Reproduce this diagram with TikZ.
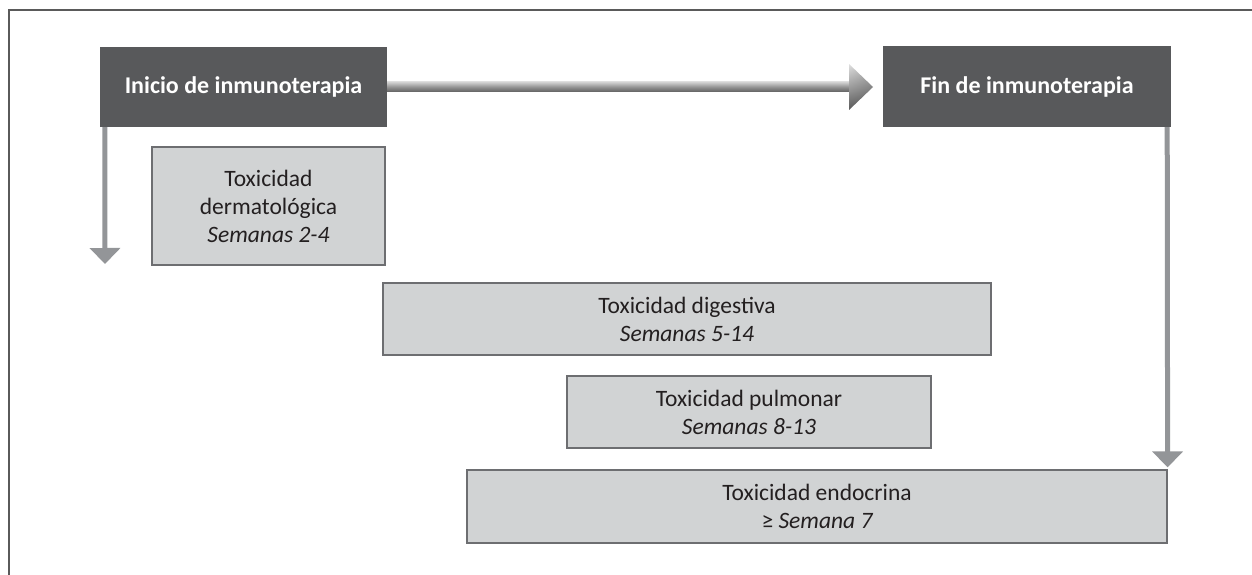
\documentclass[tikz,border=0pt]{standalone}
\usepackage{fontspec}
\setmainfont{Carlito}
\usetikzlibrary{arrows.meta,shadings}
\definecolor{darkbox}{HTML}{58595B}
\definecolor{lightbox}{HTML}{D1D3D4}
\definecolor{boxline}{HTML}{6D6E71}
\definecolor{arrowgray}{HTML}{939598}
\definecolor{framegray}{HTML}{5A5A5A}
\definecolor{textdark}{HTML}{231F20}
\tikzset{
  darknode/.style={fill=darkbox, draw=none, text=white, font=\fontsize{24}{28}\selectfont\bfseries, inner sep=0pt, align=center},
  lightnode/.style={fill=lightbox, draw=boxline, line width=1.2pt, text=textdark, font=\fontsize{23.5}{28}\selectfont, inner sep=0pt, align=center},
  downarrow/.style={draw=arrowgray, line width=5pt, -{Triangle[width=30pt,length=16pt]}},
  frameline/.style={draw=framegray, line width=1.5pt}
}
\begin{document}
\begin{tikzpicture}[x=1pt,y=-1pt]
\useasboundingbox (0,0) rectangle (1252,575);
% outer frame (top and left)
\coordinate (ftr) at (1252,10);
\coordinate (ftl) at (9,10);
\coordinate (fbl) at (9,575);
\draw[frameline] (ftr) -- (ftl) -- (fbl);
% dark boxes
\node[darknode, minimum width=287pt, minimum height=80pt] (inicio) at (243.5,87) {Inicio de inmunoterapia};
\node[darknode, minimum width=288pt, minimum height=81pt] (fin) at (1027,86.5) {Fin de inmunoterapia};
% light boxes
\node[lightnode, minimum width=233pt, minimum height=118pt] (derm) at (268.5,206) {Toxicidad\\dermatológica\\\itshape Semanas 2-4};
\node[lightnode, minimum width=608pt, minimum height=72pt] (dig) at (687,319) {Toxicidad digestiva\\\itshape Semanas 5-14};
\node[lightnode, minimum width=364pt, minimum height=72pt] (pulm) at (749,412) {Toxicidad pulmonar\\\itshape Semanas 8-13};
\node[lightnode, minimum width=700pt, minimum height=73pt] (endo) at (817,506.5) {Toxicidad endocrina\\{\upshape ≥} \itshape Semana 7};
% left down arrow
\coordinate (ltip) at (105,264);
\draw[downarrow] ([xshift=5pt]inicio.south west) -- (ltip);
% right down arrow
\draw[downarrow] ([xshift=-4pt]fin.south east) -- ([xshift=0pt,yshift=2pt]endo.north east);
% horizontal shaded arrow
\coordinate (hs) at (849,87);
\coordinate (htip) at (873,87);
\shade[top color=gray!35, bottom color=gray!75!black, middle color=gray!85] ([yshift=5pt]inicio.east) rectangle ([yshift=-5pt]hs);
\shade[upper left=gray!25, lower right=black!70, upper right=gray!55, lower left=gray!70!black]
  ([yshift=23pt]hs) -- (htip) -- ([yshift=-23pt]hs) -- cycle;
\end{tikzpicture}
\end{document}
